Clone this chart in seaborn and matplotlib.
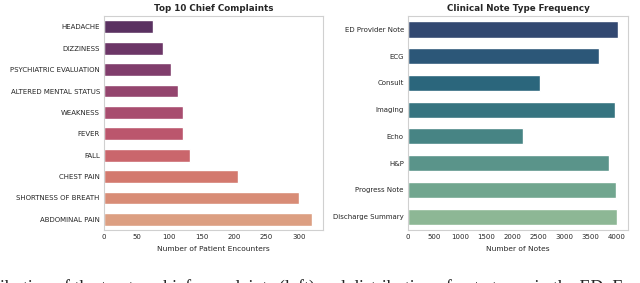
import seaborn as sns
import matplotlib.pyplot as plt
import pandas as pd

## Chief complaints (left) and note types (right)

complaints = ['HEADACHE', 'DIZZINESS', 'PSYCHIATRIC EVALUATION', 'ALTERED MENTAL STATUS',
              'WEAKNESS', 'FEVER', 'FALL', 'CHEST PAIN', 'SHORTNESS OF BREATH', 'ABDOMINAL PAIN']
complaint_counts = [75, 91, 103, 114, 121, 121, 133, 206, 300, 321]

note_types = ['ED Provider Note', 'ECG', 'Consult', 'Imaging', 'Echo', 'H&P',
              'Progress Note', 'Discharge Summary']
note_counts = [4020, 3660, 2530, 3960, 2200, 3860, 3990, 4010]

caption = "ibution of the top ten chief complaints (left) and distribution of note types in the ED. E"

sns.set_theme(style='whitegrid')

cc = pd.DataFrame({'complaint': complaints, 'count': complaint_counts})
nt = pd.DataFrame({'note': note_types, 'count': note_counts})

fig = plt.figure(figsize=(6.4, 2.83), dpi=100)
ax1 = fig.add_axes([0.1625, 0.187, 0.342, 0.756])
ax2 = fig.add_axes([0.6375, 0.187, 0.344, 0.756])

sns.barplot(data=cc, x='count', y='complaint', hue='complaint', palette='flare_r',
            legend=False, width=0.6, ax=ax1)
ax1.set_title('Top 10 Chief Complaints', fontsize=6.3, fontweight='bold', pad=4)
ax1.set_xlabel('Number of Patient Encounters', fontsize=5.4)
ax1.set_ylabel('')

sns.barplot(data=nt, x='count', y='note', hue='note', palette='crest_r',
            legend=False, width=0.6, ax=ax2)
ax2.set_title('Clinical Note Type Frequency', fontsize=6.3, fontweight='bold', pad=4)
ax2.set_xlabel('Number of Notes', fontsize=5.4)
ax2.set_ylabel('')

for ax in (ax1, ax2):
    ax.grid(False)
    ax.tick_params(labelsize=5, length=0, pad=3)
    for s in ax.spines.values():
        s.set_color('#d0d0d0')
        s.set_linewidth(0.8)

# caption of the paper figure, cut off at the bottom edge like the source
fig.text(0.0, -0.05, caption, fontsize=13, family='Liberation Serif', ha='left', va='bottom')

plt.savefig('out.png', dpi=100)
